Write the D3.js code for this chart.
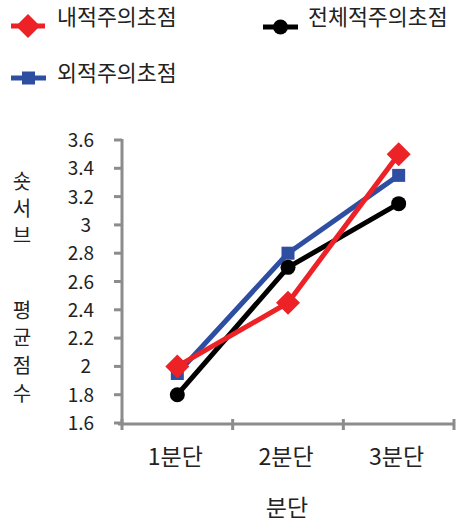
<!DOCTYPE html>
<html><head><meta charset="utf-8">
<script src="https://cdn.jsdelivr.net/npm/d3@7"></script>
<style>body{margin:0;background:#fff}svg{display:block}text{font-family:"Noto Sans CJK KR","Noto Sans",sans-serif}</style>
</head><body>
<svg id="c" width="458" height="524"></svg>
<script>
const categories = ["1분단","2분단","3분단"];
const seriesNames = ["외적주의초점","전체적주의초점","내적주의초점"];
const outer = [1.95, 2.8, 3.35];
const total = [1.8, 2.7, 3.15];
const inner = [2.0, 2.45, 3.5];
const yTicks = [1.6,1.8,2.0,2.2,2.4,2.6,2.8,3.0,3.2,3.4,3.6];
const yTitleChars = ["숏","서","브","평","균","점","수"];
const xTitle = "분단";

const svg = d3.select("#c");
const gray = "#8c8c8c";
const colors = {"내적주의초점":"#ec2227","전체적주의초점":"#000000","외적주의초점":"#2e4ea2"};
const L=122,R=454,T=140,B=423;
const x = d3.scaleBand().domain(categories).range([L,R]);
const y = d3.scaleLinear().domain([1.6,3.6]).range([B,T]);

// y axis
svg.append("line").attr("x1",L).attr("x2",L).attr("y1",T-1).attr("y2",B+1).attr("stroke",gray).attr("stroke-width",3);
svg.selectAll(".yt").data(yTicks).enter().append("line").attr("x1",L-8).attr("x2",L).attr("y1",d=>y(d)).attr("y2",d=>y(d)).attr("stroke",gray).attr("stroke-width",3);
svg.selectAll(".yl").data(yTicks).enter().append("text").attr("x",d=>Number.isInteger(d)?91:94).attr("y",d=>y(d)+7).attr("text-anchor","end")
  .attr("font-size",19).attr("fill","#222").text(d=>Number.isInteger(d)?String(d):d.toFixed(1));
// x axis
svg.append("line").attr("x1",L-4).attr("x2",R+1).attr("y1",B+1).attr("y2",B+1).attr("stroke",gray).attr("stroke-width",3);
const xt=[L].concat(categories.map(c=>x(c)+x.bandwidth()));
svg.selectAll(".xt").data(xt).enter().append("line").attr("x1",d=>d).attr("x2",d=>d).attr("y1",B-4).attr("y2",B+7).attr("stroke",gray).attr("stroke-width",3);
svg.selectAll(".xl").data(categories).enter().append("text").attr("x",d=>x(d)+x.bandwidth()/2-2).attr("y",465).attr("text-anchor","middle")
  .attr("font-size",23).attr("fill","#222").text(d=>d);
svg.append("text").attr("x",287).attr("y",516).attr("text-anchor","middle").attr("font-size",23).attr("fill","#222").text(xTitle);
// y title
const yPos=[182,209,236,311,338,366,394];
svg.append("text").attr("font-size",20).attr("fill","#222").attr("text-anchor","middle")
  .selectAll("tspan").data(yTitleChars).enter().append("tspan").attr("x",22).attr("y",(d,i)=>yPos[i]+7).text(d=>d);

const data = {"외적주의초점":outer,"전체적주의초점":total,"내적주의초점":inner};
const line = d3.line().x((d,i)=>x(categories[i])+x.bandwidth()/2).y(d=>y(d));
function marker(g,name,cx,cy){
  const c=colors[name];
  if(name==="내적주의초점") g.append("path").attr("d",`M${cx},${cy-12}L${cx+12},${cy}L${cx},${cy+12}L${cx-12},${cy}Z`).attr("fill",c);
  else if(name==="전체적주의초점") g.append("circle").attr("cx",cx).attr("cy",cy).attr("r",7.5).attr("fill",c);
  else g.append("rect").attr("x",cx-6.5).attr("y",cy-6.5).attr("width",13).attr("height",13).attr("fill",c);
}
seriesNames.forEach(name=>{
  const g=svg.append("g");
  g.append("path").attr("d",line(data[name])).attr("fill","none").attr("stroke",colors[name]).attr("stroke-width",5).attr("stroke-linejoin","round");
  data[name].forEach((v,i)=>marker(g,name,x(categories[i])+x.bandwidth()/2,y(v)));
});
// legend
const leg=[{n:"내적주의초점",x1:11,x2:45,y:26,tx:57,ty:25},{n:"전체적주의초점",x1:263,x2:298,y:27,tx:308,ty:25},{n:"외적주의초점",x1:11,x2:46,y:78,tx:57,ty:81}];
leg.forEach(l=>{
  const g=svg.append("g");
  g.append("line").attr("x1",l.x1).attr("x2",l.x2).attr("y1",l.y).attr("y2",l.y).attr("stroke",colors[l.n]).attr("stroke-width",5);
  marker(g,l.n,(l.x1+l.x2)/2,l.y);
  g.append("text").attr("x",l.tx).attr("y",l.ty).attr("font-size",21.7).attr("fill","#222").text(l.n);
});
</script></body></html>
